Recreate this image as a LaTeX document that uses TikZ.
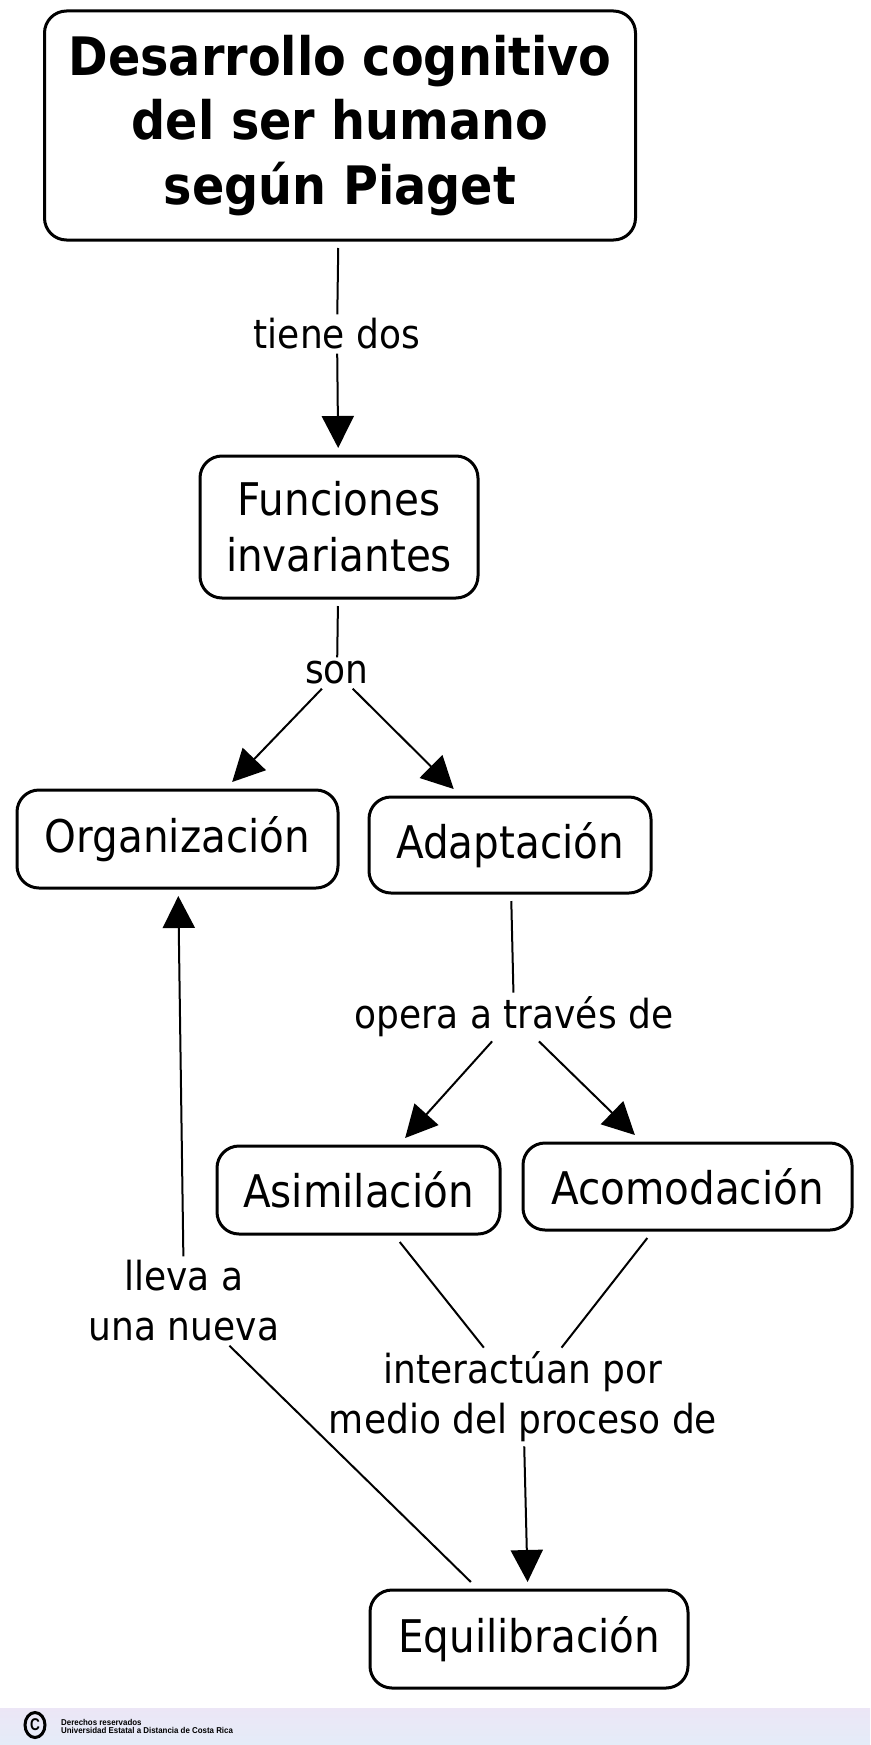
\documentclass[tikz,border=0pt]{standalone}
\usepackage{fontspec}
\usepackage{graphicx}
\setmainfont{DejaVu Sans}[FakeStretch=0.9]
\newfontfamily\footfont{Liberation Sans}
\usetikzlibrary{arrows.meta,positioning}
\begin{document}
\begin{tikzpicture}[x=1pt,y=-1pt,
  box/.style={draw, line width=3pt, rounded corners=22pt, align=center, outer sep=8pt,
              font=\fontsize{45}{56}\selectfont, inner sep=0pt},
  lab/.style={align=center, inner sep=4pt, font=\fontsize{40}{50}\selectfont},
  conn/.style={line width=2pt},
  arr/.style={line width=2pt, -{Triangle[length=32pt,width=32pt]}}]
\useasboundingbox (0,0) rectangle (870,1745);
% footer band
\shade[top color={rgb,255:red,236;green,230;blue,246}, bottom color={rgb,255:red,228;green,236;blue,248}]
  (0,1708) rectangle (870,1745);
\draw[line width=3pt] (35,1725) ellipse [x radius=10, y radius=12.5];
\node[font=\footfont\bfseries\fontsize{17}{17}\selectfont, inner sep=0pt] (cc) at (35,1725) {\scalebox{0.8}[1]{C}};
\node[anchor=west, align=left, inner sep=0pt, font=\footfont\bfseries\fontsize{8.5}{8}\selectfont] (foot) at (61,1726)
  {\scalebox{0.93}[1]{Derechos reservados}\\\scalebox{0.93}[1]{Universidad Estatal a Distancia de Costa Rica}};

% nodes
\node[box, minimum width=591pt, minimum height=229pt, font=\bfseries\fontsize{53}{64.5}\selectfont] (title) at (340,125.5)
  {Desarrollo cognitivo\\del ser humano\\según Piaget};
\node[box, minimum width=278pt, minimum height=142pt] (func) at (339,527) {Funciones\\invariantes};
\node[box, minimum width=321pt, minimum height=98pt] (org) at (177.5,839) {Organización};
\node[box, minimum width=282pt, minimum height=96pt] (adap) at (510,845) {Adaptación};
\node[box, minimum width=283pt, minimum height=88pt] (asim) at (358.5,1190) {Asimilación};
\node[box, minimum width=329pt, minimum height=87pt] (acom) at (687.5,1186.5) {Acomodación};
\node[box, minimum width=318pt, minimum height=98pt] (equi) at (529,1639) {Equilibración};

% labels
\node[lab] (tiene) at (337,334) {tiene dos};
\node[lab] (son) at (337,673) {son};
\node[lab] (opera) at (514,1017) {opera a través de};
\node[lab] (inter) at (523,1397) {interactúan por\\medio del proceso de};
\node[lab] (lleva) at (184,1301) {lleva a\\una nueva};

% connectors
\draw[conn] (title) -- (tiene);
\draw[arr] (tiene) -- (func);
\draw[conn] (func) -- (son);
\draw[arr] (son) -- (org);
\draw[arr] (son) -- (adap);
\draw[conn] (adap) -- (opera);
\draw[arr] (opera) -- (asim);
\draw[arr] (opera) -- (acom);
\draw[conn] (asim) -- (inter);
\draw[conn] (acom) -- (inter);
\draw[arr] (inter) -- (equi);
\draw[conn] (equi) -- (lleva);
\draw[arr] (lleva) -- (org);
\end{tikzpicture}
\end{document}
